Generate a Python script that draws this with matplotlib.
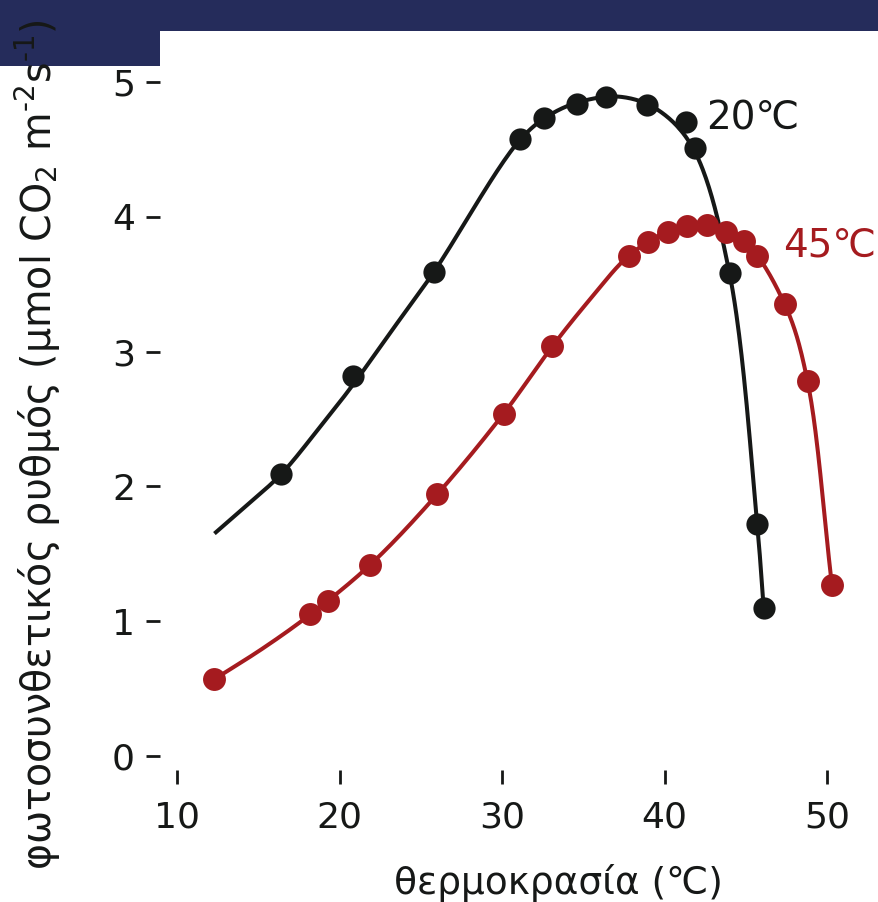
import numpy as np
import matplotlib
matplotlib.use("Agg")
import matplotlib.pyplot as plt
from matplotlib.patches import Rectangle

# ── data ──────────────────────────────────────────────────
# measured points, plants grown at 20°C
temp_20 = [16.4, 20.8, 25.8, 31.1, 32.6, 34.6, 36.4, 38.9, 41.3, 41.9, 44.0, 45.7, 46.1]
rate_20 = [2.09, 2.82, 3.59, 4.58, 4.73, 4.84, 4.89, 4.83, 4.70, 4.51, 3.58, 1.72, 1.10]

# measured points, plants grown at 45°C
temp_45 = [12.3, 18.2, 19.3, 21.9, 26.0, 30.1, 33.1, 37.8, 39.0, 40.2, 41.4, 42.6,
           43.8, 44.9, 45.7, 47.4, 48.8, 50.3]
rate_45 = [0.57, 1.05, 1.15, 1.42, 1.94, 2.54, 3.04, 3.71, 3.81, 3.89, 3.93, 3.94,
           3.89, 3.82, 3.71, 3.35, 2.78, 1.27]

# fitted curves as drawn in the reference
fit_x_20 = [12.3, 14.3, 16.4, 18.6, 20.8, 23.3, 25.8, 31.1, 33.0, 35.0, 37.3,
            39.5, 41.7, 44.0, 45.7, 46.1]
fit_y_20 = [1.65, 1.86, 2.09, 2.41, 2.75, 3.17, 3.59, 4.57, 4.76, 4.86, 4.89,
            4.80, 4.52, 3.58, 1.72, 1.10]
fit_x_45 = [12.3, 15.3, 18.2, 21.9, 26.0, 30.1, 33.1, 35.5, 37.8, 40.2, 42.6, 44.9,
            47.4, 48.8, 50.3]
fit_y_45 = [0.57, 0.80, 1.05, 1.42, 1.94, 2.54, 3.04, 3.40, 3.71, 3.89, 3.94, 3.82,
            3.35, 2.78, 1.27]

x_ticks = [10, 20, 30, 40, 50]
y_ticks = [0, 1, 2, 3, 4, 5]

NAVY = "#252c5b"
BLACK = "#161817"
RED = "#a51b1f"


def smooth(xs, ys, ax, n=40):
    """Centripetal Catmull-Rom through the curve points (in display space)."""
    pts = ax.transData.transform(np.column_stack([xs, ys]))
    p = np.vstack([2 * pts[0] - pts[1], pts, 2 * pts[-1] - pts[-2]])
    out = []
    for i in range(1, len(p) - 2):
        p0, p1, p2, p3 = p[i - 1], p[i], p[i + 1], p[i + 2]
        t0 = 0.0
        t1 = t0 + np.linalg.norm(p1 - p0) ** 0.5
        t2 = t1 + np.linalg.norm(p2 - p1) ** 0.5
        t3 = t2 + np.linalg.norm(p3 - p2) ** 0.5
        t = np.linspace(t1, t2, n)[:, None]
        a1 = (t1 - t) / (t1 - t0) * p0 + (t - t0) / (t1 - t0) * p1
        a2 = (t2 - t) / (t2 - t1) * p1 + (t - t1) / (t2 - t1) * p2
        a3 = (t3 - t) / (t3 - t2) * p2 + (t - t2) / (t3 - t2) * p3
        b1 = (t2 - t) / (t2 - t0) * a1 + (t - t0) / (t2 - t0) * a2
        b2 = (t3 - t) / (t3 - t1) * a2 + (t - t1) / (t3 - t1) * a3
        out.append((t2 - t) / (t2 - t1) * b1 + (t - t1) / (t2 - t1) * b2)
    out = ax.transData.inverted().transform(np.vstack(out))
    return out[:, 0], out[:, 1]


plt.rcParams["font.family"] = ["DejaVu Sans"]

fig = plt.figure(figsize=(8.79, 9.02), dpi=100)
ax = fig.add_axes([160 / 879, 132 / 902, 700 / 879, 705 / 902])
ax.patch.set_alpha(0)

# header band
fig.patches.append(Rectangle((0, 1 - 31 / 902), 1, 31 / 902, transform=fig.transFigure,
                             facecolor=NAVY, edgecolor="none", zorder=-1))
fig.patches.append(Rectangle((0, 1 - 66 / 902), 160 / 879, 66 / 902, transform=fig.transFigure,
                             facecolor=NAVY, edgecolor="none", zorder=-1))

ax.set_xlim(8.95, 52.03)
ax.set_ylim(-0.104, 5.126)

sx, sy = smooth(fit_x_20, fit_y_20, ax)
ax.plot(sx, sy, color=BLACK, lw=2.9, solid_capstyle="butt", zorder=2)
sx, sy = smooth(fit_x_45, fit_y_45, ax)
ax.plot(sx, sy, color=RED, lw=2.9, solid_capstyle="butt", zorder=2)

ax.plot(temp_20, rate_20, "o", color=BLACK, ms=16, mew=0, zorder=3)
ax.plot(temp_45, rate_45, "o", color=RED, ms=16.5, mew=0, zorder=3)

ax.text(42.55, 4.73, "20\u2103", color=BLACK, fontsize=28, va="center", ha="left")
ax.text(47.3, 3.79, "45\u2103", color=RED, fontsize=28, va="center", ha="left")

for s in ax.spines.values():
    s.set_visible(False)
ax.set_xticks(x_ticks)
ax.set_yticks(y_ticks)
ax.tick_params(axis="both", direction="out", length=10, width=2, color=BLACK,
               labelsize=26, labelcolor=BLACK)
ax.tick_params(axis="x", pad=12)
ax.tick_params(axis="y", pad=8)

ax.set_xlabel("θερμοκρασία (\u2103)", fontsize=27, color=BLACK, va="center")
ax.xaxis.set_label_coords(0.569, -0.160)
ax.set_ylabel(r"φωτοσυνθετικός ρυθμός (μmol CO$_2$ m$^{\text{-}2}$s$^{\text{-}1}$)",
              fontsize=28.5, color=BLACK, va="center", ha="center")
ax.yaxis.set_label_coords(-0.174, 0.462)

fig.savefig("out.png", dpi=100)
